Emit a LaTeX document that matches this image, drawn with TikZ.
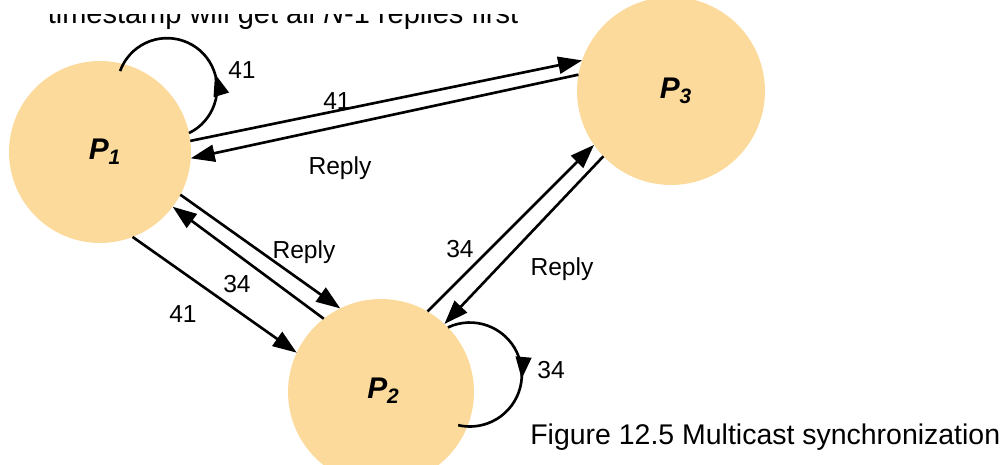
\documentclass[tikz,border=0pt]{standalone}
\usepackage{fontspec}
\setmainfont{Liberation Sans}
\usepackage{tikz}
\usetikzlibrary{arrows.meta,decorations.markings}
\definecolor{procfill}{RGB}{252,218,155}
\tikzset{
  proc/.style={circle, fill=procfill, minimum size=#1, inner sep=0pt, outer sep=0pt,
               font=\fontsize{17}{19}\selectfont\bfseries\itshape},
  arr/.style={-{Triangle[length=4.8mm,width=3.4mm]}, line width=1.5pt},
  selfloop/.style={line width=1.5pt, postaction={decorate},
                   decoration={markings, mark=at position #1 with {\arrow{Triangle[length=4.4mm,width=3.1mm]}}}},
  lbl/.style={font=\fontsize{14}{16}\selectfont, inner sep=0pt},
}

\begin{document}
\begin{tikzpicture}[x=0.02cm, y=0.02cm]
        \useasboundingbox (0,0) rectangle (1005,465);
        % text cut off at the top
        \begin{scope}
          \clip (0,0) rectangle (1005,450);
          \node[anchor=base, font=\fontsize{16.5}{18}\selectfont, inner sep=0pt] (note) at (283,441)
            {timestamp will get all \textit{N}-1 replies first};
        \end{scope}
        % processes
        \node[proc=3.64cm] (p1) at (100,313) {\hspace{2mm}P\textsubscript{1}};
        \node[proc=3.72cm] (p2) at (381,73) {\raisebox{1.5mm}{\hspace{1mm}P\textsubscript{2}}};
        \node[proc=3.76cm] (p3) at (671,374) {\hspace{2mm}P\textsubscript{3}};
        % messages
        \draw[arr] (p1.7) -- (p3.161);
        \draw[arr] (p3.170) -- (p1.-4);
        \draw[arr] (p1.-28) -- (p2.116);
        \draw[arr] (p2.128) -- (p1.-37);
        \draw[arr] (p1.-69) -- (p2.155);
        \draw[arr] (p2.60) -- (p3.215);
        \draw[arr] (p3.224) -- (p2.47);
        \draw[selfloop=0.36] (p1.12) arc[start angle=-64, end angle=160, radius=1cm];
        \draw[selfloop=0.55] (p2.44) arc[start angle=115, end angle=-103, radius=1.04cm];
        % labels
        \node[lbl] (lp1) at (242,395) {41};
        \node[lbl] (l13) at (337,364) {41};
        \node[lbl] (l31) at (340,297) {Reply};
        \node[lbl] (l12r) at (304,213) {Reply};
        \node[lbl] (l21) at (237,181) {34};
        \node[lbl] (l12) at (183,151) {41};
        \node[lbl] (l23) at (460,216) {34};
        \node[lbl] (l32) at (562,196) {Reply};
        \node[lbl] (lp2) at (551,95) {34};
        \node[anchor=base west, font=\fontsize{16.2}{18}\selectfont, inner sep=0pt] (cap) at (530,20)
          {Figure 12.5 Multicast synchronization};
      \end{tikzpicture}
\end{document}
